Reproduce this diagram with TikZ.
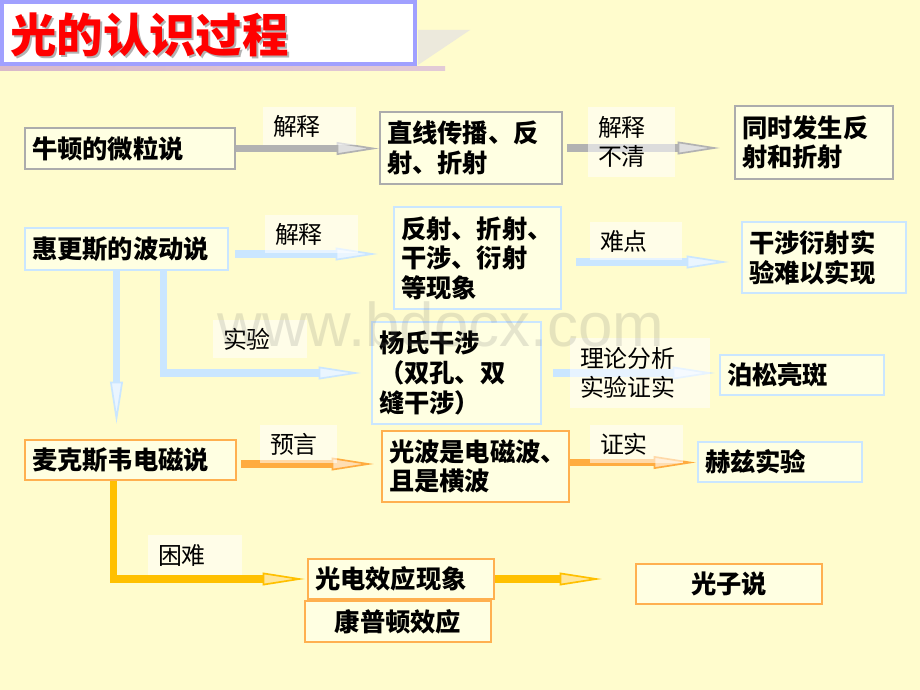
\documentclass[tikz,border=0pt]{standalone}
\usepackage{fontspec}
\newfontfamily\cjk{Noto Sans CJK SC}
\setsansfont{Liberation Sans}
\usetikzlibrary{arrows.meta,calc}

\definecolor{hintergrund}{RGB}{255,252,205}
\definecolor{kastenfill}{RGB}{255,255,226}
\definecolor{grau}{RGB}{178,178,178}
\definecolor{blau}{RGB}{202,230,255}
\definecolor{orangelinie}{RGB}{255,172,64}
\definecolor{gold}{RGB}{255,192,0}
\definecolor{rahmenorange}{RGB}{255,176,80}
\definecolor{rahmengrau}{RGB}{172,172,172}
\definecolor{titelrahmen}{RGB}{160,160,255}
\definecolor{titelschatten}{RGB}{236,233,220}
\definecolor{weinrot}{RGB}{160,80,120}

\newlength\pxu
\setlength\pxu{0.025cm}

\begin{document}
\begin{tikzpicture}[x=0.025cm, y=-0.025cm,
    kasten/.style={draw=#1, fill=kastenfill, line width=1.6pt, inner xsep=7\pxu,
        inner ysep=0pt, align=left, font=\cjk\bfseries\fontsize{18}{21}\selectfont},
    beschriftung/.style={fill=white, fill opacity=0.55, text opacity=1, inner xsep=10\pxu,
        inner ysep=0pt, align=left, font=\cjk\fontsize{17}{21}\selectfont},
    pfeil/.style={draw=#1, line width=5pt,
        -{Triangle[length=30pt,width=9pt,line width=1.2pt,fill=#1!40!white]}},
]
    % Hintergrund
    \useasboundingbox (0,0) rectangle (920,690);
    \fill[hintergrund] (0,0) rectangle (920,690);

    % Titel
    \fill[titelschatten] (418,30) -- (470,30) -- (418,65) -- cycle;
    \shade[left color=weinrot!40, middle color=weinrot, right color=weinrot!30] (0,67) rectangle (445,71);
    \draw[titelrahmen, fill=white, line width=2.2pt] (2,2) rectangle (415,64);
    \node[anchor=west, text=black!30, font=\cjk\bfseries\fontsize{33}{33}\selectfont, inner sep=0pt] (titelschatten) at (12,37) {光的认识过程};
    \node[anchor=west, text=red, font=\cjk\bfseries\fontsize{33}{33}\selectfont, inner sep=0pt] (titel) at (10,35) {光的认识过程};

    % Kaesten
    \node[kasten=rahmengrau, minimum height=41\pxu, text width=196\pxu] (newton) at (130,148.5) {牛顿的微粒说};
    \node[kasten=rahmengrau, minimum height=72\pxu, text width=168\pxu] (gerade) at (471,148) {直线传播、反\\射、折射};
    \node[kasten=rahmengrau, minimum height=73\pxu, text width=144\pxu] (zugleich) at (814,142.5) {同时发生反\\射和折射};

    \node[kasten=blau, minimum height=42\pxu, text width=189\pxu] (huygens) at (126.5,249) {惠更斯的波动说};
    \node[kasten=blau, minimum height=102\pxu, text width=153\pxu] (phaen) at (477.5,258) {反射、折射、\\干涉、衍射\\等现象};
    \node[kasten=blau, minimum height=71\pxu, text width=150\pxu] (schwer) at (824,257.5) {干涉衍射实\\验难以实现};
    \node[kasten=blau, minimum height=102\pxu, text width=155\pxu] (young) at (456.5,373) {杨氏干涉\\（双孔、双\\缝干涉）};
    \node[kasten=blau, minimum height=40\pxu, text width=150\pxu] (poisson) at (802,375) {泊松亮斑};

    \node[kasten=rahmenorange, minimum height=40\pxu, text width=197\pxu] (maxwell) at (130.5,460) {麦克斯韦电磁说};
    \node[kasten=rahmenorange, minimum height=71\pxu, text width=173\pxu] (welle) at (475.5,466.5) {光波是电磁波、\\且是横波};
    \node[kasten=blau, minimum height=40\pxu, text width=150\pxu] (hertz) at (780,462) {赫兹实验};

    \node[kasten=rahmenorange, minimum height=40\pxu, text width=172\pxu] (photo) at (401,579) {光电效应现象};
    \node[kasten=rahmenorange, minimum height=41\pxu, text width=172\pxu, align=center] (compton) at (398,621.5) {康普顿效应};
    \node[kasten=rahmenorange, minimum height=40\pxu, text width=172\pxu, align=center] (photon) at (729,584) {光子说};

    % Pfeile
    \draw[pfeil=grau] (newton.east) -- (newton.east -| gerade.west);
    \draw[pfeil=grau, shorten <=4\pxu, shorten >=14\pxu] (gerade.east) -- (gerade.east -| zugleich.west);

    \draw[pfeil=blau, shorten <=6\pxu, shorten >=15\pxu] ($(huygens.east)+(0,5)$) -- ($(huygens.east -| phaen.west)+(0,5)$);
    \draw[pfeil=blau, shorten <=14\pxu, shorten >=12\pxu] ($(phaen.east)+(0,4)$) -- ($(phaen.east -| schwer.west)+(0,4)$);
    \coordinate (h1) at ($(huygens.south)+(37,0)$);
    \coordinate (h2) at ($(huygens.south)+(-10,0)$);
    \draw[pfeil=blau, shorten >=10\pxu] (h1) |- (young.west);
    \draw[pfeil=blau, shorten >=15\pxu] (h2) -- (h2 |- maxwell.north);
    \draw[pfeil=blau, shorten <=11\pxu, shorten >=4\pxu] (young.east) -- (young.east -| poisson.west);

    \draw[pfeil=orangelinie, shorten <=4\pxu, shorten >=7\pxu] ($(maxwell.east)+(0,4)$) -- ($(maxwell.east -| welle.west)+(0,4)$);
    \draw[pfeil=orangelinie, shorten >=1\pxu] ($(welle.east)+(0,-4)$) -- ($(welle.east -| hertz.west)+(0,-4)$);
    \coordinate (m1) at ($(maxwell.south)+(-17,0)$);
    \draw[pfeil=gold, shorten >=2\pxu] (m1) |- (photo.west);
    \draw[pfeil=gold, shorten >=33\pxu] (photo.east) -- (photo.east -| photon.west);

    % Beschriftungen
    \node[beschriftung, minimum height=38\pxu, text width=73\pxu] (l1) at (309.5,126) {解释};
    \node[beschriftung, minimum height=70\pxu, text width=67\pxu] (l2) at (631.5,142) {解释\\不清};
    \node[beschriftung, minimum height=38\pxu, text width=73\pxu] (l3) at (311.5,234) {解释};
    \node[beschriftung, minimum height=38\pxu, text width=72\pxu] (l4) at (636,241) {难点};
    \node[beschriftung, minimum height=38\pxu, text width=74\pxu] (l5) at (260,339) {实验};
    \node[beschriftung, minimum height=70\pxu, text width=120\pxu] (l6) at (640,373) {理论分析\\实验证实};
    \node[beschriftung, minimum height=38\pxu, text width=57\pxu] (l7) at (298.5,444) {预言};
    \node[beschriftung, minimum height=38\pxu, text width=73\pxu] (l8) at (636.5,444) {证实};
    \node[beschriftung, minimum height=40\pxu, text width=74\pxu] (l9) at (195,555) {困难};

    % Wasserzeichen
    \node[anchor=base, text=black!55, text opacity=0.18, font=\sffamily\fontsize{44}{44}\selectfont] (wz) at (441,346) {www.bdocx.com};
\end{tikzpicture}
\end{document}
